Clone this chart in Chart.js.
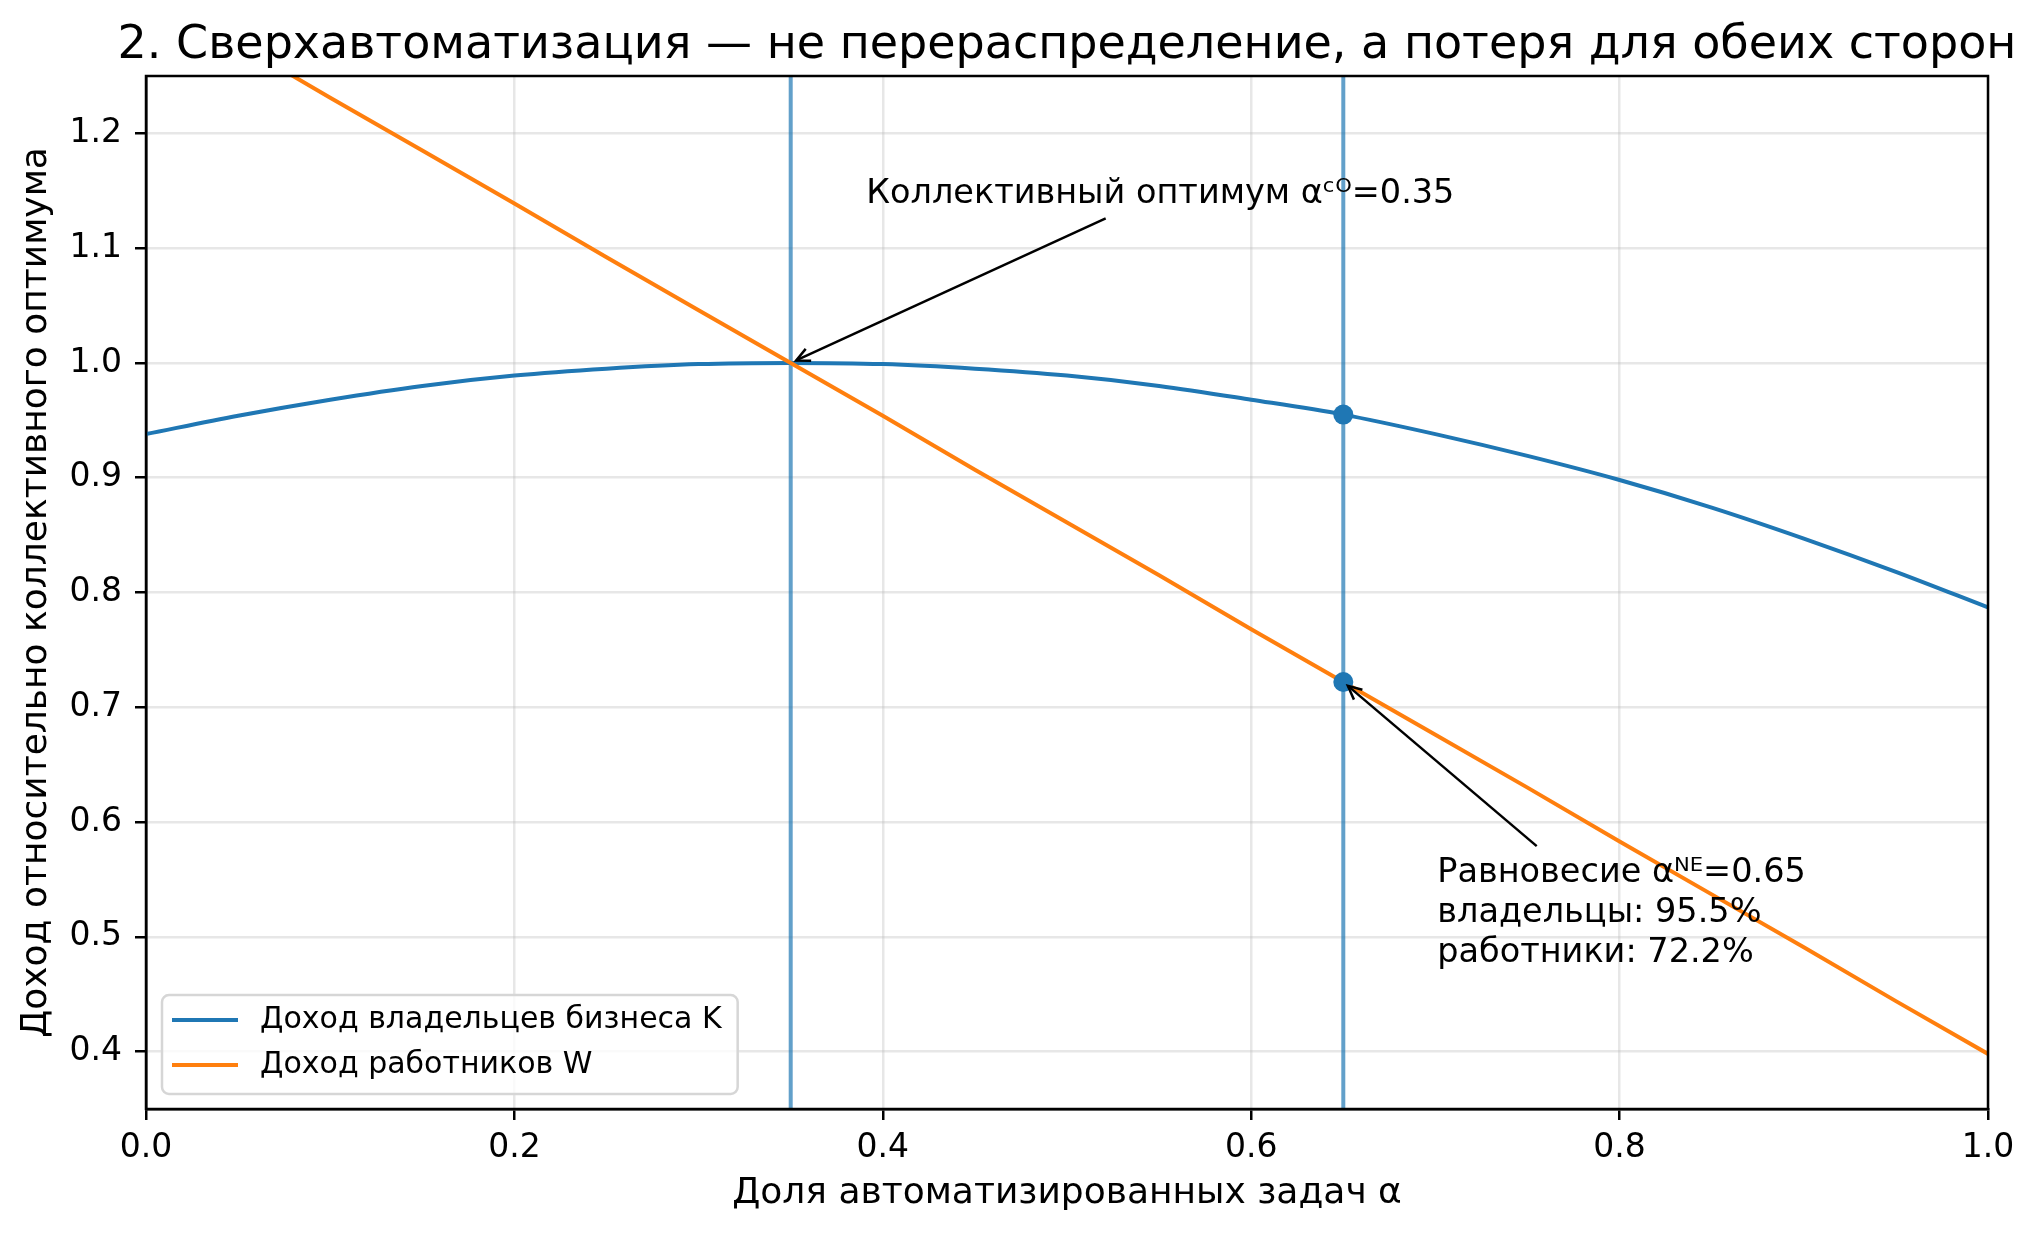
<!DOCTYPE html>
<html>
<head>
<meta charset="utf-8">
<script src="https://cdn.jsdelivr.net/npm/chart.js@4.4.1/dist/chart.umd.min.js"></script>
<style>
  body { margin: 0; background: #fff; }
</style>
</head>
<body>
<canvas id="myChart" width="2036" height="1235"></canvas>
<script>
Chart.defaults.font.family = "'DejaVu Sans', sans-serif";
Chart.defaults.color = '#000';

// доля автоматизированных задач
const alpha = [0, 0.05, 0.1, 0.15, 0.2, 0.25, 0.3, 0.35, 0.4, 0.45, 0.5,
               0.55, 0.6, 0.65, 0.7, 0.75, 0.8, 0.85, 0.9, 0.95, 1.0];
// доход владельцев K
const incomeK = [0.938, 0.954, 0.968, 0.980, 0.989, 0.995, 0.999, 1.000, 0.999, 0.995, 0.989,
                 0.980, 0.968, 0.955, 0.938, 0.919, 0.898, 0.874, 0.847, 0.818, 0.787];
// доход работников W
const incomeW = [1.324, 1.278, 1.231, 1.185, 1.139, 1.092, 1.046, 1.000, 0.954, 0.907, 0.861,
                 0.815, 0.768, 0.722, 0.676, 0.630, 0.583, 0.537, 0.491, 0.444, 0.398];

const alphaCO = 0.35;
const alphaNE = 0.65;
const neOwners = 0.955;
const neWorkers = 0.722;

const xTicks = [0, 0.2, 0.4, 0.6, 0.8, 1.0];
const yTicks = [0.4, 0.5, 0.6, 0.7, 0.8, 0.9, 1.0, 1.1, 1.2];

const labelK = 'Доход владельцев бизнеса K';
const labelW = 'Доход работников W';
const titleText = '2. Сверхавтоматизация — не перераспределение, а потеря для обеих сторон';

const blue = '#1f77b4';
const orange = '#ff7f0e';
const gridColor = 'rgba(176,176,176,0.3)';

// подписи со стрелками: текст (x, y), хвост стрелки, точка
const annotations = [
  { lines: ['Коллективный оптимум αᶜᴼ=0.35'], tx: 0.391, ty: 1.139,
    from: [0.521, 1.126], to: [alphaCO, 1.0] },
  { lines: ['Равновесие αᴺᴱ=0.65', 'владельцы: 95.5%', 'работники: 72.2%'], tx: 0.701, ty: 0.548,
    from: [0.755, 0.579], to: [alphaNE, neWorkers] }
];

const toXY = (xs, ys) => xs.map((x, i) => ({ x: x, y: ys[i] }));

// вертикальные линии, рамка, заголовок
const extras = {
  id: 'extras',
  beforeDatasetsDraw(chart) {
    const { ctx, chartArea: a, scales: { x } } = chart;
    ctx.save();
    ctx.strokeStyle = 'rgba(31,119,180,0.7)';
    ctx.lineWidth = 4;
    [alphaCO, alphaNE].forEach(v => {
      const px = x.getPixelForValue(v);
      ctx.beginPath();
      ctx.moveTo(px, a.top);
      ctx.lineTo(px, a.bottom);
      ctx.stroke();
    });
    ctx.restore();
  },
  afterDraw(chart) {
    const { ctx, chartArea: a, scales: { x, y } } = chart;
    ctx.save();
    // рамка
    ctx.strokeStyle = '#000';
    ctx.lineWidth = 2.5;
    ctx.strokeRect(a.left, a.top, a.right - a.left, a.bottom - a.top);

    // заголовок
    ctx.fillStyle = '#000';
    ctx.font = "46px 'DejaVu Sans'";
    ctx.textAlign = 'center';
    ctx.textBaseline = 'alphabetic';
    ctx.fillText(titleText, (a.left + a.right) / 2, 58);

    // аннотации
    ctx.font = "33.5px 'DejaVu Sans'";
    ctx.textAlign = 'left';
    annotations.forEach(an => {
      const tx = x.getPixelForValue(an.tx), ty = y.getPixelForValue(an.ty);
      an.lines.forEach((t, i) => ctx.fillText(t, tx, ty + i * 40));
      const x1 = x.getPixelForValue(an.from[0]), y1 = y.getPixelForValue(an.from[1]);
      let x2 = x.getPixelForValue(an.to[0]), y2 = y.getPixelForValue(an.to[1]);
      const ang = Math.atan2(y2 - y1, x2 - x1);
      x2 -= 6 * Math.cos(ang);
      y2 -= 6 * Math.sin(ang);
      ctx.strokeStyle = '#000';
      ctx.lineWidth = 2.5;
      ctx.beginPath();
      ctx.moveTo(x1, y1);
      ctx.lineTo(x2, y2);
      ctx.stroke();
      const hl = 15, hw = 0.45;
      ctx.beginPath();
      ctx.moveTo(x2 - hl * Math.cos(ang - hw), y2 - hl * Math.sin(ang - hw));
      ctx.lineTo(x2, y2);
      ctx.lineTo(x2 - hl * Math.cos(ang + hw), y2 - hl * Math.sin(ang + hw));
      ctx.stroke();
    });

    // легенда
    ctx.font = "30px 'DejaVu Sans'";
    const items = [[labelK, blue], [labelW, orange]];
    const bx = a.left + 16, by = a.bottom - 114;
    const tw = Math.max(...items.map(it => ctx.measureText(it[0]).width));
    const bw = 98 + tw + 16, bh = 99;
    ctx.beginPath();
    ctx.roundRect(bx, by, bw, bh, 7);
    ctx.fillStyle = 'rgba(255,255,255,0.8)';
    ctx.fill();
    ctx.strokeStyle = '#d6d6d6';
    ctx.lineWidth = 2.5;
    ctx.stroke();
    items.forEach((it, i) => {
      const ry = by + 25 + i * 45;
      ctx.strokeStyle = it[1];
      ctx.lineWidth = 4;
      ctx.beginPath();
      ctx.moveTo(bx + 10, ry);
      ctx.lineTo(bx + 76, ry);
      ctx.stroke();
      ctx.fillStyle = '#000';
      ctx.textBaseline = 'middle';
      ctx.fillText(it[0], bx + 98, ry);
    });
    ctx.restore();
  }
};

const ctx = document.getElementById('myChart').getContext('2d');

const myChart = new Chart(ctx, {
  type: 'line',
  data: {
    datasets: [
      {
        label: 'NE',
        data: [{ x: alphaNE, y: neOwners }, { x: alphaNE, y: neWorkers }],
        showLine: false,
        pointRadius: 10,
        pointBackgroundColor: blue,
        pointBorderWidth: 0,
        order: 0
      },
      {
        label: labelW,
        data: toXY(alpha, incomeW),
        borderColor: orange,
        borderWidth: 4,
        pointRadius: 0,
        fill: false,
        order: 1
      },
      {
        label: labelK,
        data: toXY(alpha, incomeK),
        borderColor: blue,
        borderWidth: 4,
        pointRadius: 0,
        fill: false,
        cubicInterpolationMode: 'monotone',
        order: 2
      }
    ]
  },
  options: {
    responsive: false,
    devicePixelRatio: 1,
    animation: false,
    layout: { padding: { top: 76, right: 48, left: 0, bottom: 0 } },
    plugins: {
      legend: { display: false },
      title: { display: false },
      tooltip: { enabled: false }
    },
    scales: {
      x: {
        type: 'linear',
        min: 0,
        max: 1,
        afterFit: s => { s.height = 126; },
        afterBuildTicks: s => { s.ticks = xTicks.map(v => ({ value: v })); },
        ticks: { font: { size: 33 }, padding: 9, maxRotation: 0, callback: v => v.toFixed(1) },
        grid: { color: gridColor, lineWidth: 2.5, tickColor: '#000', tickWidth: 2.5, tickLength: 11 },
        border: { color: '#000', width: 2.5 },
        title: { display: true, text: 'Доля автоматизированных задач α', font: { size: 36 }, padding: { bottom: 20 } }
      },
      y: {
        type: 'linear',
        min: 0.35,
        max: 1.25,
        afterFit: s => { s.width = 146; },
        afterBuildTicks: s => { s.ticks = yTicks.map(v => ({ value: v })); },
        ticks: { font: { size: 33 }, padding: 13, callback: v => v.toFixed(1) },
        grid: { color: gridColor, lineWidth: 2.5, tickColor: '#000', tickWidth: 2.5, tickLength: 11 },
        border: { color: '#000', width: 2.5 },
        title: { display: true, text: 'Доход относительно коллективного оптимума', font: { size: 36 }, padding: { top: 15 } }
      }
    }
  },
  plugins: [extras]
});
</script>
</body>
</html>
